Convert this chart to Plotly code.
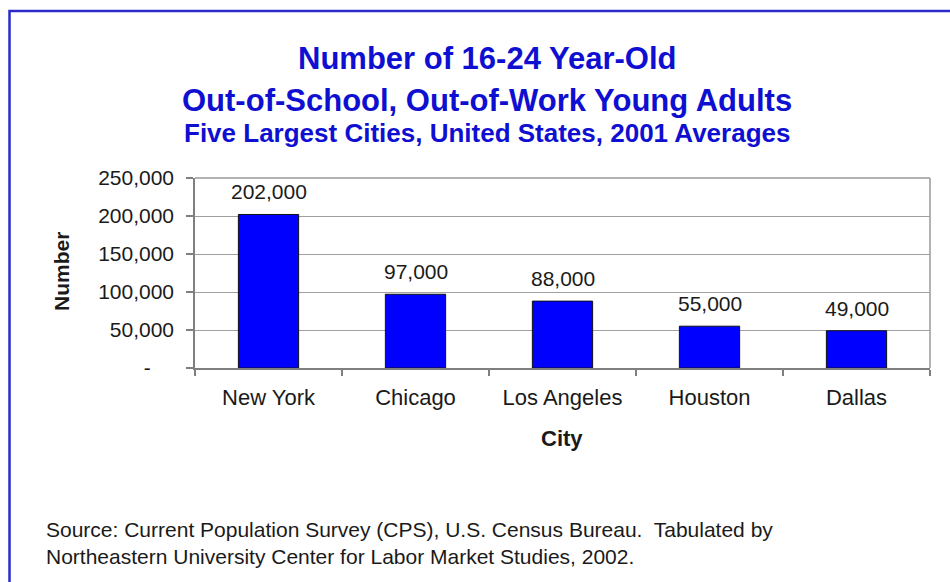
import plotly.graph_objects as go

# Data
cities = ["New York", "Chicago", "Los Angeles", "Houston", "Dallas"]
counts = [202000, 97000, 88000, 55000, 49000]
y_tick_vals = [0, 50000, 100000, 150000, 200000, 250000]
y_tick_text = ["-\u00a0\u00a0\u00a0\u00a0", "50,000", "100,000", "150,000", "200,000", "250,000"]

title_lines = [
    "Number of 16-24 Year-Old",
    "Out-of-School, Out-of-Work Young Adults",
    "Five Largest Cities, United States, 2001 Averages",
]
source_lines = [
    "Source: Current Population Survey (CPS), U.S. Census Bureau.  Tabulated by",
    "Northeastern University Center for Labor Market Studies, 2002.",
]

# Canvas geometry (pixels)
W, H = 950, 582
L, R, T, B = 195, 930, 178, 368

def xp(px):
    return (px - L) / (R - L)

def yp(py):
    return (B - py) / (B - T)

FONT = "Arial, 'Liberation Sans', sans-serif"
TEXT = "#1a1a1a"
BLUE_TITLE = "#0f0fd2"

fig = go.Figure()
fig.add_trace(go.Bar(
    x=cities,
    y=counts,
    width=0.41,
    marker=dict(color="#0000ff", line=dict(color="#111111", width=1)),
    hoverinfo="x+y",
))

annotations = []
# value labels above each bar
for c, v in zip(cities, counts):
    annotations.append(dict(
        x=c, y=v, xref="x", yref="y", text=f"{v:,}",
        showarrow=False, yanchor="bottom", yshift=9,
        font=dict(family=FONT, size=21, color=TEXT),
    ))

# title block
title_specs = [(title_lines[0], 58, 31), (title_lines[1], 100, 31), (title_lines[2], 133, 26)]
for txt, cy, sz in title_specs:
    annotations.append(dict(
        x=xp(487), y=yp(cy), xref="paper", yref="paper", text=f"<b>{txt}</b>",
        showarrow=False, xanchor="center", yanchor="middle",
        font=dict(family=FONT, size=sz, color=BLUE_TITLE),
    ))

# axis titles
annotations.append(dict(
    x=xp(61), y=yp(272), xref="paper", yref="paper", text="<b>Number</b>",
    showarrow=False, textangle=-90, xanchor="center", yanchor="middle",
    font=dict(family=FONT, size=21, color=TEXT),
))
annotations.append(dict(
    x=xp(562), y=yp(438), xref="paper", yref="paper", text="<b>City</b>",
    showarrow=False, xanchor="center", yanchor="middle",
    font=dict(family=FONT, size=22, color=TEXT),
))

# source note
annotations.append(dict(
    x=xp(44), y=yp(543), xref="paper", yref="paper",
    text="<br>".join(source_lines), align="left",
    showarrow=False, xanchor="left", yanchor="middle",
    font=dict(family=FONT, size=21, color=TEXT),
))

shapes = [
    # outer blue frame (runs off the right and bottom edges)
    dict(type="rect", xref="paper", yref="paper",
         x0=xp(9.5), x1=xp(990), y0=yp(620), y1=yp(11),
         line=dict(color="#2b2bcc", width=2.5), fillcolor="rgba(0,0,0,0)", layer="below"),
    # plot area frame (top and right)
    dict(type="line", xref="paper", yref="paper", x0=0, x1=1, y0=1, y1=1,
         line=dict(color="#9a9a9a", width=1.5)),
    dict(type="line", xref="paper", yref="paper", x0=1, x1=1, y0=0, y1=1,
         line=dict(color="#9a9a9a", width=1.5)),
]

fig.update_layout(
    width=W, height=H,
    margin=dict(l=L, r=W - R, t=T, b=H - B, pad=0),
    paper_bgcolor="white", plot_bgcolor="white",
    showlegend=False,
    annotations=annotations,
    shapes=shapes,
)

fig.update_xaxes(
    type="category",
    tickson="boundaries",
    ticks="outside", ticklen=6, tickwidth=1.5, tickcolor="#7f7f7f",
    showline=True, linecolor="#7f7f7f", linewidth=1.5,
    showgrid=False,
    tickfont=dict(family=FONT, size=22, color=TEXT),
    ticklabelstandoff=9,
)
fig.update_yaxes(
    range=[0, 250000],
    tickvals=y_tick_vals, ticktext=y_tick_text,
    ticks="outside", ticklen=7, tickwidth=1.5, tickcolor="#7f7f7f",
    showline=True, linecolor="#7f7f7f", linewidth=1.5,
    showgrid=True, gridcolor="#a0a0a0", gridwidth=1.2,
    zeroline=False,
    tickfont=dict(family=FONT, size=21, color=TEXT),
    ticklabelstandoff=8,
)

fig.write_html("out.html")
